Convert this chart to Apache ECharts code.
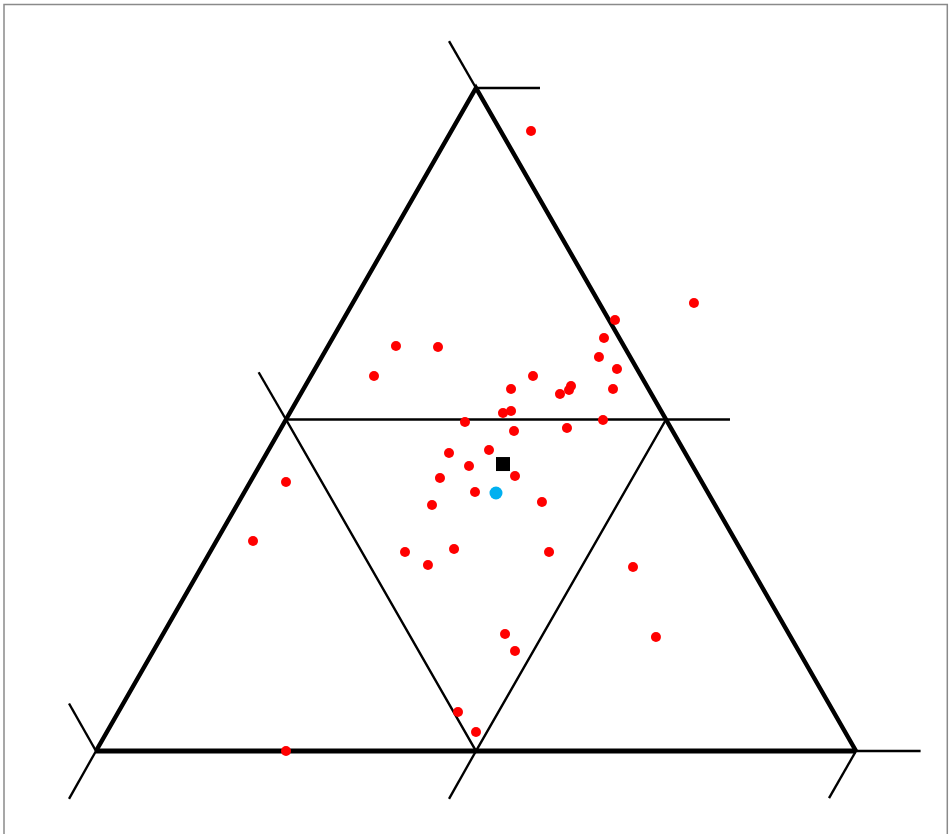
<!DOCTYPE html>
<html>
<head>
<meta charset="utf-8">
<style>
  html, body { margin: 0; padding: 0; background: #fff; }
  #main { width: 949px; height: 834px; }
</style>
<script src="https://cdn.jsdelivr.net/npm/echarts@6/dist/echarts.min.js"></script>
</head>
<body>
<div id="main"></div>
<script>
// plot units: base of triangle 0..100, height 0..87.24
var sides = [[0,0],[50,87.24],[100,0]];
var base = [[0,0],[100,0]];
var inner = [[25,43.62],[50,0],[75,43.62]];
var midLine = [[25,43.62],[83.42,43.62]];
var ticks = [
    [[50,87.24],[58.42,87.24]],
    [[50,87.24],[46.45,93.42]],
    [[0,0],[-3.55,6.25]],
    [[0,0],[-3.55,-6.3]],
    [[50,0],[46.45,-6.3]],
    [[100,0],[108.5,0]],
    [[100,0],[96.45,-6.2]],
    [[25,43.62],[21.4,49.84]]
];
var samples = [
    [57.24,81.58],[78.68,58.95],[68.29,56.71],[66.84,54.34],[39.47,53.29],
    [45.0,53.16],[66.18,51.84],[68.55,50.26],[36.58,49.34],[57.5,49.34],
    [62.5,48.03],[62.24,47.5],[54.61,47.63],[61.05,46.97],[68.03,47.63],
    [53.55,44.47],[54.61,44.74],[48.55,43.29],[66.71,43.55],[61.97,42.5],
    [55.0,42.11],[51.71,39.61],[46.45,39.21],[49.08,37.5],[55.13,36.18],
    [45.26,35.92],[49.87,34.08],[25.0,35.39],[44.21,32.37],[58.68,32.76],
    [20.66,27.63],[40.66,26.18],[47.11,26.58],[59.61,26.18],[43.68,24.47],
    [70.66,24.21],[53.82,15.39],[73.68,15.0],[55.13,13.16],[47.63,5.13],
    [50.0,2.5],[25.0,0]
];
var meanPoint = [[53.55,37.76]];
var otherPoint = [[52.63,33.95]];

function seg(data, width){
    return {
        type: 'line',
        data: data,
        symbol: 'none',
        clip: false,
        silent: true,
        z: 1,
        lineStyle: { color: '#000', width: width, join: 'miter', cap: 'butt', opacity: 1 }
    };
}

var series = [];
series.push(seg(sides, 4.5));
series.push(seg(base, 5));
series.push(seg(inner, 2.5));
series.push(seg(midLine, 2.5));
for (var i = 0; i < ticks.length; i++) {
    series.push(seg(ticks[i], 2.4));
}
series.push({
    type: 'scatter', data: samples, symbol: 'circle', symbolSize: 10,
    clip: false, z: 3, itemStyle: { color: '#ff0000', opacity: 1 }
});
series.push({
    type: 'scatter', data: meanPoint, symbol: 'rect', symbolSize: 14,
    clip: false, z: 4, itemStyle: { color: '#000000', opacity: 1 }
});
series.push({
    type: 'scatter', data: otherPoint, symbol: 'circle', symbolSize: 13,
    clip: false, z: 4, itemStyle: { color: '#00b0f0', opacity: 1 }
});

var chart = echarts.init(document.getElementById('main'));
chart.setOption({
    animation: false,
    // 7.6 px per unit on both axes, with a margin of 10 units round the triangle
    grid: { left: 20, right: 17, top: 12, bottom: 7 },
    xAxis: { type: 'value', min: -10, max: 110, show: false },
    yAxis: { type: 'value', min: -10, max: 97.24, show: false },
    graphic: [{
        type: 'rect',
        shape: { x: 4, y: 4.5, width: 943.3, height: 900 },
        style: { fill: 'none', stroke: '#8a8a8a', lineWidth: 1.5 },
        silent: true
    }],
    series: series
});
</script>
</body>
</html>
